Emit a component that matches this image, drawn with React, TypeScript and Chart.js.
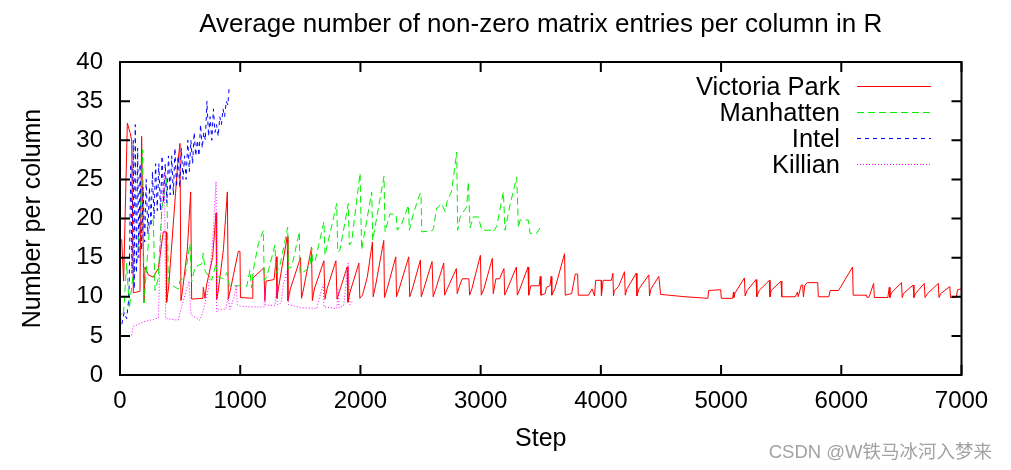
import React, { useEffect, useRef } from "react";
import { Chart, registerables } from "chart.js";

Chart.register(...registerables);

const chartTitle = "Average number of non-zero matrix entries per column in R";
const xAxisTitle = "Step";
const yAxisTitle = "Number per column";
const watermark = "CSDN @W铁马冰河入梦来";

const xTickValues = [0, 1000, 2000, 3000, 4000, 5000, 6000, 7000];
const xTickLabels = ["0", "1000", "2000", "3000", "4000", "5000", "6000", "7000"];
const yTickValues = [0, 5, 10, 15, 20, 25, 30, 35, 40];
const yTickLabels = ["0", "5", "10", "15", "20", "25", "30", "35", "40"];

const seriesNames = ["Victoria Park", "Manhatten", "Intel", "Killian"];

// [step, value]
const victoriaPark: [number, number][] = [
  [0, 17.3], [14, 17.3], [30, 12], [61, 32.2], [83, 31], [97, 30], [111, 10.5], [166, 10.7], [180, 30.5], [200, 9.2],
  [208, 13.8], [236, 12.8], [277, 12.5], [305, 13.3], [319, 13.6], [360, 18.3], [383, 18.3], [388, 9.3], [405, 11.3],
  [480, 27], [499, 29.6], [507, 9.5], [520, 10.8], [560, 16], [588, 23.4], [596, 9.7], [690, 9.8], [693, 11.2],
  [707, 9.8], [720, 11.5], [770, 15], [799, 20.7], [804, 9.7], [815, 10.5], [860, 16], [893, 23.4], [901, 9.7],
  [920, 11], [984, 15.8], [998, 15.8], [1002, 9.9], [1103, 9.8], [1105, 12.4], [1197, 13.7], [1205, 9.5], [1215, 12.0],
  [1282, 12.2], [1300, 15.1], [1306, 9.8], [1317, 11], [1391, 17.7], [1397, 9.5], [1417, 11], [1502, 15.0],
  [1510, 9.8], [1527, 11], [1593, 16.3], [1600, 9.5], [1617, 11], [1696, 14.6], [1705, 9.7], [1722, 11],
  [1796, 14.6], [1805, 9.7], [1822, 10.5], [1889, 13.8], [1896, 9.3], [1912, 10.5], [1987, 14.3], [1995, 9.8],
  [2017, 10.2], [2057, 12.5], [2100, 17.0], [2106, 10.0], [2127, 11.5], [2194, 17.2], [2200, 9.9], [2222, 11],
  [2294, 15.1], [2300, 10.0], [2322, 11], [2402, 15.1], [2410, 10], [2432, 11], [2499, 14.7], [2506, 10],
  [2527, 11], [2596, 14.5], [2605, 10], [2627, 11], [2693, 14.3], [2700, 10.2], [2722, 11], [2798, 13.6],
  [2805, 10.4], [2827, 11.5], [2847, 12.3], [2902, 12.3], [2908, 10.2], [2927, 11], [2998, 15.3], [3005, 10.2],
  [3027, 11], [3097, 14.9], [3105, 10.4], [3127, 12.3], [3157, 12.3], [3194, 13.6], [3200, 10.2], [3222, 11],
  [3297, 13.8], [3305, 10.2], [3327, 11], [3394, 13.8], [3400, 10.2], [3417, 11.4], [3487, 11.4], [3496, 12.6],
  [3502, 10.2], [3537, 10.4], [3547, 11.2], [3577, 11.4], [3587, 12.6], [3592, 10.2], [3617, 11], [3698, 15.5],
  [3704, 10.2], [3757, 10.4], [3787, 12.9], [3807, 12.9], [3812, 10.2], [3897, 10.2], [3927, 11], [3947, 10.1],
  [3957, 12.1], [4002, 12.1], [4005, 10.1], [4019, 12.1], [4088, 12.1], [4100, 13.0], [4105, 10.1], [4112, 10.8],
  [4147, 11.3], [4197, 13.2], [4203, 10.2], [4217, 11], [4294, 13.0], [4300, 10.1], [4317, 11], [4399, 12.8],
  [4405, 10.1], [4417, 11], [4482, 12.6], [4497, 10.3], [4700, 10.0], [4890, 9.8], [4897, 10.8], [4997, 10.9],
  [5002, 9.8], [5097, 9.8], [5103, 10.6], [5107, 9.9], [5117, 10.5], [5194, 12.4], [5200, 10.1], [5217, 10.8],
  [5291, 12.2], [5297, 10.0], [5317, 10.8], [5402, 12.1], [5407, 10.0], [5417, 10.8], [5499, 12.0], [5505, 10.0],
  [5617, 10.0], [5635, 10.6], [5642, 10.0], [5667, 11.5], [5679, 11.5], [5685, 10.0], [5697, 11.5], [5717, 11.8],
  [5804, 11.8], [5809, 10.0], [5897, 10.0], [5907, 10.8], [5977, 10.8], [5997, 11.3], [6094, 13.8], [6099, 10.2],
  [6210, 10.2], [6215, 9.9], [6232, 10.0], [6269, 11.7], [6275, 9.9], [6387, 9.9], [6399, 11.2], [6405, 9.9],
  [6417, 10.5], [6501, 11.8], [6507, 9.9], [6517, 10.4], [6598, 11.5], [6604, 9.9], [6617, 10.4], [6690, 11.7],
  [6697, 9.9], [6717, 10.4], [6807, 11.7], [6813, 9.9], [6827, 10.4], [6903, 11.3], [6909, 9.9], [6957, 9.9],
  [6967, 10.9], [6995, 11.0],
];

const manhatten: [number, number][] = [
  [0, 8.5], [12, 7.5], [30, 8], [55, 14.3], [78, 8.5], [110, 13], [140, 14], [166, 20], [189, 28.8], [200, 9.2],
  [220, 13.5], [250, 19.8], [277, 19.8], [291, 10.8], [318, 12.3], [347, 21.1], [388, 25.3], [402, 12.1],
  [416, 11.6], [485, 11.0], [499, 12.1], [540, 12.5], [582, 16.8], [596, 11.9], [624, 13.8], [680, 14.2],
  [693, 15.6], [707, 13.3], [763, 12.1], [800, 14.3], [810, 12.6], [860, 12.3], [890, 13.1], [910, 11.4],
  [1040, 11.4], [1054, 11.3],
  [1081, 13.4], [1095, 11.1], [1109, 13.4], [1151, 16.8], [1192, 18.5], [1200, 12.1], [1220, 12.5], [1289, 16.6],
  [1298, 13.0], [1331, 14.0], [1395, 18.9], [1401, 13.6], [1428, 13.8], [1492, 18.3], [1497, 13.0], [1540, 13.3],
  [1580, 13.9], [1595, 16.2], [1603, 14.4], [1622, 14.5], [1697, 19.6], [1705, 15.3], [1803, 21.9], [1811, 15.7],
  [1830, 16], [1899, 21.9], [1908, 16.6], [1927, 17], [1997, 25.8], [2010, 16.0], [2094, 23.4], [2102, 17.2],
  [2196, 25.4], [2205, 18.3], [2246, 20.6], [2296, 20.5], [2307, 18.5], [2343, 19.3], [2399, 21.7], [2407, 18.5],
  [2440, 20.6], [2496, 23.2], [2504, 23.2], [2510, 18.3], [2593, 18.4], [2607, 18.7], [2635, 21.3], [2676, 21.9],
  [2704, 20.9], [2723, 22.3], [2759, 23.5], [2801, 28.5], [2809, 18.5], [2829, 20.2], [2884, 21.5], [2898, 24.7],
  [2912, 18.8], [2939, 20.2], [2981, 20.2], [3009, 18.5], [3092, 18.5], [3106, 18.3], [3134, 19.0], [3189, 23.4],
  [3203, 18.5], [3244, 21.7], [3300, 25.3], [3314, 18.8], [3328, 19.8], [3397, 19.8], [3411, 18.1], [3466, 18.1],
  [3494, 18.8],
];

const intel: [number, number][] = [
  [0, 7.5], [15, 6.5], [35, 8], [55, 7.2], [75, 10], [90, 27], [100, 13], [110, 30], [118, 11], [127, 32],
  [137, 13], [147, 29], [157, 15], [167, 27], [180, 16], [192, 24], [205, 17], [218, 25], [232, 18], [245, 24],
  [258, 19], [270, 26], [283, 20], [296, 27], [310, 21], [323, 27], [337, 21], [350, 28], [363, 22], [376, 27],
  [390, 22], [403, 28], [417, 23], [430, 28], [444, 23], [457, 29], [470, 24], [484, 28], [497, 24], [510, 29],
  [524, 25], [537, 28], [550, 25], [564, 30], [577, 26], [590, 30], [604, 27], [617, 31], [630, 28], [644, 30],
  [657, 28], [670, 32], [684, 29], [697, 31], [710, 30], [723, 35], [737, 30.5], [750, 33], [764, 30], [777, 34],
  [790, 31], [803, 32], [817, 30.5], [830, 33], [844, 32], [857, 34], [870, 33], [884, 35], [897, 34.5],
  [907, 36.5], [913, 36.8],
];

const killian: [number, number][] = [
  [0, 5.0], [95, 5.0], [110, 6.2], [140, 6.4], [194, 6.8], [277, 7.1], [320, 7.3], [335, 16], [350, 22],
  [369, 25.8], [380, 7.2], [485, 7.0], [513, 8.8], [555, 11], [575, 12], [590, 7.7], [665, 7.0], [693, 8.3],
  [735, 11], [770, 17], [799, 24.7], [804, 8.1], [815, 8.4], [880, 8.4], [898, 10], [915, 8.4], [950, 10],
  [968, 11.5], [975, 9], [1000, 8.8],
  [1081, 8.7], [1200, 8.7], [1206, 11.3], [1212, 8.9], [1290, 8.9], [1303, 11.4], [1310, 9.0], [1340, 9.2],
  [1359, 11.6], [1387, 13.2], [1401, 9.0], [1500, 8.6], [1637, 8.5], [1664, 10.2], [1691, 11.6], [1697, 8.7],
  [1803, 8.5], [1816, 10.9], [1822, 8.6], [1860, 8.8], [1899, 14.3], [1913, 9.0], [1941, 9.6],
];

const seriesData = [victoriaPark, manhatten, intel, killian];
const seriesColors = ["#ff0000", "#00f000", "#0000ff", "#ff00ff"];
const seriesDashes: number[][] = [[], [7, 4], [4, 4], [1, 2]];

const FONT = "'Liberation Sans', Arial, Helvetica, sans-serif";

const gnuplotFrame = {
  id: "gnuplotFrame",
  afterDraw(chart: any) {
    const ctx: CanvasRenderingContext2D = chart.ctx;
    const { left, right, top, bottom } = chart.chartArea;
    const xs = chart.scales.x;
    const ys = chart.scales.y;
    const tickLen = 10;
    ctx.save();
    ctx.strokeStyle = "#000";
    ctx.lineWidth = 2;
    ctx.setLineDash([]);
    ctx.beginPath();
    xs.ticks.forEach((t: any) => {
      const px = xs.getPixelForValue(t.value);
      ctx.moveTo(px, bottom);
      ctx.lineTo(px, bottom - tickLen);
      ctx.moveTo(px, top);
      ctx.lineTo(px, top + tickLen);
    });
    ys.ticks.forEach((t: any) => {
      const py = ys.getPixelForValue(t.value);
      ctx.moveTo(left, py);
      ctx.lineTo(left + tickLen, py);
      ctx.moveTo(right, py);
      ctx.lineTo(right - tickLen, py);
    });
    ctx.stroke();
    ctx.strokeRect(left, top, right - left, bottom - top);

    // legend (gnuplot style)
    ctx.font = `25.5px ${FONT}`;
    ctx.fillStyle = "#000";
    ctx.textAlign = "right";
    ctx.textBaseline = "alphabetic";
    chart.data.datasets.forEach((ds: any, i: number) => {
      const base = top + 33 + i * 26;
      ctx.fillText(ds.label, right - 121.5, base);
      ctx.save();
      ctx.strokeStyle = ds.borderColor;
      ctx.lineWidth = 1;
      ctx.setLineDash(ds.borderDash || []);
      ctx.beginPath();
      ctx.moveTo(right - 104.5, base - 8.5);
      ctx.lineTo(right - 30.5, base - 8.5);
      ctx.stroke();
      ctx.restore();
    });

    // title
    ctx.textAlign = "center";
    ctx.font = `26px ${FONT}`;
    ctx.fillText(chartTitle, (left + right) / 2, 32);

    // watermark
    ctx.textAlign = "right";
    ctx.font = `18.5px 'Liberation Sans', 'Noto Sans CJK SC', sans-serif`;
    ctx.fillStyle = "#a3a3a3";
    ctx.fillText(watermark, 992, 458);
    ctx.restore();
  },
};

export default function App() {
  const canvasRef = useRef<HTMLCanvasElement | null>(null);

  useEffect(() => {
    if (!canvasRef.current) return;
    const datasets = seriesData.map((series, i) => ({
      label: seriesNames[i],
      data: series.map(([x, y]) => ({ x, y })),
      borderColor: seriesColors[i],
      backgroundColor: seriesColors[i],
      borderWidth: 1,
      borderDash: seriesDashes[i],
      pointRadius: 0,
      tension: 0,
      fill: false,
      order: 4 - i,
    }));
    const chart = new Chart(canvasRef.current, {
      type: "line",
      data: { datasets },
      options: {
        responsive: false,
        animation: false,
        events: [],
        layout: { padding: { top: 62, right: 49.5, bottom: 0, left: 0 } },
        plugins: {
          legend: { display: false },
          title: { display: false },
          tooltip: { enabled: false },
        },
        scales: {
          x: {
            type: "linear",
            min: 0,
            max: 7000,
            afterBuildTicks: (s: any) => {
              s.ticks = xTickValues.map((v) => ({ value: v }));
            },
            afterFit: (s: any) => {
              s.height = 95;
            },
            ticks: {
              autoSkip: false,
              maxRotation: 0,
              padding: 12,
              color: "#000",
              font: { family: FONT, size: 24 },
              callback: (v: any) => xTickLabels[xTickValues.indexOf(Number(v))] ?? "",
            },
            grid: { display: false, drawTicks: false },
            border: { display: false },
            title: {
              display: true,
              text: xAxisTitle,
              color: "#000",
              font: { family: FONT, size: 25 },
              padding: { top: 0, bottom: 16 },
            },
          },
          y: {
            type: "linear",
            min: 0,
            max: 40,
            afterBuildTicks: (s: any) => {
              s.ticks = yTickValues.map((v) => ({ value: v }));
            },
            afterFit: (s: any) => {
              s.width = 120;
            },
            ticks: {
              autoSkip: false,
              padding: 17,
              color: "#000",
              font: { family: FONT, size: 24 },
              callback: (v: any) => yTickLabels[yTickValues.indexOf(Number(v))] ?? "",
            },
            grid: { display: false, drawTicks: false },
            border: { display: false },
            title: {
              display: true,
              text: yAxisTitle,
              color: "#000",
              font: { family: FONT, size: 25 },
              padding: { top: 18, bottom: 0 },
            },
          },
        },
      },
      plugins: [gnuplotFrame],
    } as any);
    return () => chart.destroy();
  }, []);

  return (
    <div style={{ position: "absolute", left: 0, top: 0, width: 1011, height: 470, background: "#fff" }}>
      <canvas ref={canvasRef} width={1011} height={470} style={{ display: "block" }} />
    </div>
  );
}
